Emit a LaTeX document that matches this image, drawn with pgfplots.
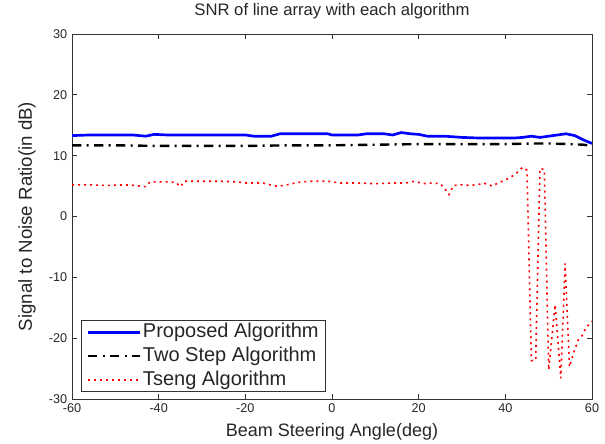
\documentclass[border=0pt]{standalone}
\usepackage{pgfplots}
\pgfplotsset{compat=1.18}
\usepackage{fontspec}
\setmainfont{Liberation Sans}
\begin{document}
\begin{tikzpicture}
\begin{axis}[
  scale only axis,
  width=390pt, height=273.75pt,
  xmin=-60, xmax=60, ymin=-30, ymax=30,
  xtick={-60,-40,...,60}, ytick={-30,-20,...,30},
  /pgf/number format/assume math mode=true,
  tick label style={font=\fontsize{9.5}{10}\selectfont, color=black!85},
  axis line style={black!80, line width=0.6pt},
  every tick/.style={black!80, line width=0.6pt},
  title={SNR of line array with each algorithm},
  title style={font=\fontsize{12.5}{14}\selectfont, color=black!85, at={(axis description cs:0.5,1.030)}, anchor=base},
  xlabel={Beam Steering Angle(deg)},
  xlabel style={font=\fontsize{13.5}{15}\selectfont, color=black!85, at={(axis description cs:0.5,-0.104)}, anchor=base},
  ylabel={Signal to Noise Ratio(in dB)},
  ylabel style={font=\fontsize{14}{15}\selectfont, color=black!85, at={(axis description cs:-0.0865,0.5)}, anchor=center},
  tick align=inside, tick pos=both,
  major tick length=3.75pt,
  legend style={at={(axis description cs:0.0173,0.0192)}, anchor=south west, draw=black!80, line width=0.6pt,
     font=\fontsize{15}{16}\selectfont, text=black!85, inner xsep=4pt, inner ysep=0.5pt,
     nodes={inner sep=1.2pt, text height=11pt, text depth=3.2pt}, row sep=1.2pt},
  legend image code/.code={\draw[#1] (0pt,0pt) -- (39pt,0pt);},
  legend cell align=left,
]
\addplot[blue, line width=2pt] coordinates {
(-60,13.3)(-56,13.4)(-50,13.4)(-46,13.4)(-43,13.2)(-41,13.5)(-38,13.4)(-30,13.4)(-20,13.4)(-18,13.2)(-14,13.2)(-12,13.6)(-6,13.6)(-1,13.6)(0,13.4)(6,13.4)(8,13.6)(12,13.6)(14,13.4)(16,13.8)(18,13.6)(20,13.5)(22,13.2)(26,13.2)(30,13.0)(34,12.9)(38,12.9)(42,12.9)(44,13.0)(46,13.2)(48,13.0)(50,13.2)(52,13.4)(54,13.6)(56,13.3)(58,12.6)(60,12.0)
};
\addlegendentry{Proposed Algorithm}
\addplot[black, line width=1.8pt, dash pattern=on 7pt off 4pt on 1.5pt off 4pt] coordinates {
(-60,11.7)(-50,11.7)(-40,11.6)(-30,11.6)(-20,11.6)(-10,11.7)(0,11.7)(10,11.8)(20,11.9)(30,11.9)(40,11.9)(46,12.0)(50,12.0)(55,11.9)(58,11.8)(60,11.6)
};
\addlegendentry{Two Step Algorithm}
\addplot[red, line width=1.2pt, dash pattern=on 1.5pt off 3pt] coordinates {
(-60,5.2)(-56,5.2)(-52,5.1)(-48,5.2)(-45,5.1)(-44,4.9)(-43,4.9)(-42,5.7)(-38,5.7)(-36,5.6)(-35,4.9)(-34,5.8)(-30,5.8)(-26,5.8)(-22,5.7)(-20,5.5)(-16,5.5)(-13,5.0)(-11,5.1)(-8,5.6)(-5,5.8)(-1,5.8)(2,5.5)(6,5.5)(10,5.4)(14,5.5)(17,5.5)(19,5.8)(21,5.4)(23,5.5)(25,5.4)(26,4.6)(27,3.6)(28,5.1)(30,5.2)(32,5.1)(34,5.3)(35,5.5)(37,5.0)(38,5.4)(40,6.0)(42,6.8)(43,7.4)(44,8.1)(45,7.6)(46,-23.7)(47,-23.6)(48,7.9)(49,7.7)(50,-25.2)(51.5,-14.5)(52.8,-26.6)(53.8,-7.7)(54.8,-24.7)(55.9,-22.1)(56.8,-20.3)(57.8,-19.5)(58.6,-18.3)(60,-17.2)
};
\addlegendentry{Tseng Algorithm}
\end{axis}
\pgfresetboundingbox
\path (current axis.south west) ++(-54pt,-33.75pt) coordinate (bbsw);
\path (current axis.north east) ++(9.75pt,25.5pt) coordinate (bbne);
\path[use as bounding box] (bbsw) rectangle (bbne);
\end{tikzpicture}
\end{document}
